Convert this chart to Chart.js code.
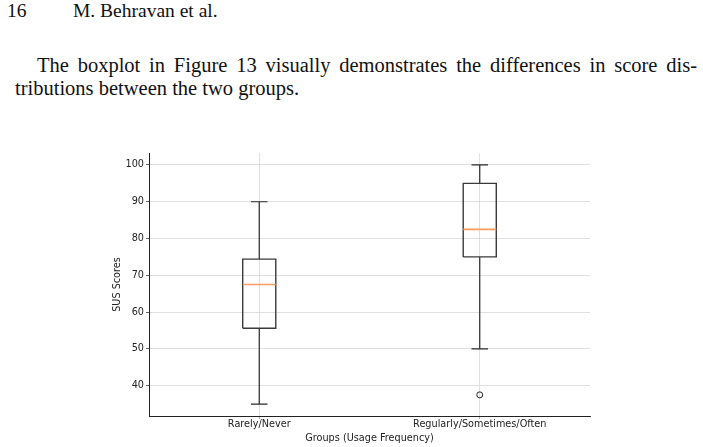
<!DOCTYPE html>
<html>
<head>
<meta charset="utf-8">
<script src="https://cdn.jsdelivr.net/npm/chart.js@4.4.1/dist/chart.umd.min.js"></script>
<style>
  html, body { margin: 0; padding: 0; background: #fff; }
  body { width: 703px; height: 447px; position: relative; overflow: hidden; }
  .serif { font-family: "Liberation Serif", "DejaVu Serif", serif; color: #111; position: absolute; white-space: nowrap; }
  #hdr { left: 7px; top: 2px; font-size: 19.5px; line-height: 18px; }
  #hdr .num { display: inline-block; width: 66px; }
  #l1 { left: 37px; width: 660px; top: 55px; font-size: 20.5px; line-height: 20px; text-align: justify; text-align-last: justify; }
  #l2 { left: 15px; top: 78px; font-size: 20.5px; line-height: 20px; }
  #wrap { position: absolute; left: 0; top: 0; width: 703px; height: 447px; }
</style>
</head>
<body>
<div id="hdr" class="serif"><span class="num">16</span>M. Behravan et al.</div>
<div id="l1" class="serif">The boxplot in Figure 13 visually demonstrates the differences in score dis-</div>
<div id="l2" class="serif">tributions between the two groups.</div>
<div id="wrap"><canvas id="c" width="703" height="447"></canvas></div>
<script>
// ---- data ----
const categories   = ['Rarely/Never', 'Regularly/Sometimes/Often'];
const whiskerLow   = [35, 50];
const q1           = [55.6, 75];
const median       = [67.5, 82.5];
const q3           = [74.4, 95];
const whiskerHigh  = [90, 100];
const outliers     = [[], [37.5]];
const yTicks       = [40, 50, 60, 70, 80, 90, 100];
const yMin = 31.75, yMax = 103.25;

// ---- build line segments from the data ----
const HW = 0.075;        // half box width (in category units)
const CW = HW / 2;       // half cap width
const gap = (x) => ({ x: x, y: null });
const boxPts = [], whiskPts = [], capPts = [], medPts = [], outPts = [];
categories.forEach((c, i) => {
  const x = i + 1;
  boxPts.push({x: x - HW, y: q1[i]}, {x: x + HW, y: q1[i]}, {x: x + HW, y: q3[i]}, {x: x - HW, y: q3[i]}, {x: x - HW, y: q1[i]}, gap(x));
  whiskPts.push({x: x, y: q1[i]}, {x: x, y: whiskerLow[i]}, gap(x), {x: x, y: q3[i]}, {x: x, y: whiskerHigh[i]}, gap(x));
  capPts.push({x: x - CW, y: whiskerLow[i]}, {x: x + CW, y: whiskerLow[i]}, gap(x), {x: x - CW, y: whiskerHigh[i]}, {x: x + CW, y: whiskerHigh[i]}, gap(x));
  medPts.push({x: x - HW, y: median[i]}, {x: x + HW, y: median[i]}, gap(x));
  outliers[i].forEach(v => outPts.push({x: x, y: v}));
});

const lineDs = (label, data, color, w) => ({
  label, data, showLine: true, spanGaps: false, pointRadius: 0, pointHoverRadius: 0,
  borderColor: color, borderWidth: w, backgroundColor: 'transparent'
});

const tickFont = { family: 'DejaVu Sans', size: 9.7 };
const txt = '#222';

new Chart(document.getElementById('c'), {
  type: 'scatter',
  data: {
    datasets: [
      lineDs('median', medPts, '#ff9a5c', 1.6),
      lineDs('box', boxPts, '#3a3a3a', 1.4),
      lineDs('whiskers', whiskPts, '#2a2a2a', 1.2),
      lineDs('caps', capPts, '#2a2a2a', 1.2),
      { label: 'outliers', data: outPts, pointStyle: 'circle', pointRadius: 3, pointBorderWidth: 1,
        borderColor: '#222', backgroundColor: 'transparent', pointBackgroundColor: 'transparent' }
    ]
  },
  options: {
    responsive: false,
    animation: false,
    events: [],
    layout: { padding: { left: 108, right: 113, top: 153, bottom: 3 } },
    plugins: { legend: { display: false }, tooltip: { enabled: false } },
    scales: {
      x: {
        type: 'linear', min: 0.5, max: 2.5,
        afterBuildTicks: s => { s.ticks = categories.map((c, i) => ({ value: i + 1 })); },
        afterFit: s => { s.height = 28; },
        ticks: { font: tickFont, color: txt, padding: 0, maxRotation: 0,
                 callback: (v) => categories[Math.round(v) - 1] },
        grid: { color: '#d8d8d8', borderDash: [3, 2], lineWidth: 0.8, tickLength: 3, tickColor: '#b0b0b0', tickBorderDash: [], tickWidth: 1 },
        border: { display: true, color: '#222', width: 1 },
        title: { display: true, text: 'Groups (Usage Frequency)', font: tickFont, color: txt, padding: { top: 0, bottom: 0 } }
      },
      y: {
        type: 'linear', min: yMin, max: yMax,
        afterBuildTicks: s => { s.ticks = yTicks.map(v => ({ value: v })); },
        afterFit: s => { s.width = 41; },
        ticks: { font: tickFont, color: txt, padding: 2 },
        grid: { color: '#d8d8d8', borderDash: [3, 2], lineWidth: 0.8, tickLength: 3, tickColor: '#666', tickBorderDash: [], tickWidth: 1 },
        border: { display: true, color: '#222', width: 1 },
        title: { display: true, text: 'SUS Scores', font: tickFont, color: txt, padding: { top: 4, bottom: 0 } }
      }
    }
  }
});
</script>
</body>
</html>
